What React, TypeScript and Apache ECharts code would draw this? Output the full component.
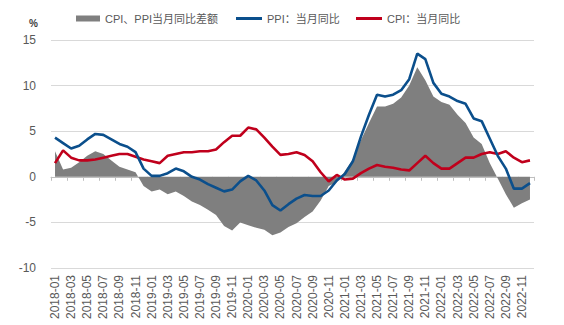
import React, { useEffect, useRef } from "react";
import * as echarts from "echarts";

const categories: string[] = [
  "2018-01","2018-02","2018-03","2018-04","2018-05","2018-06","2018-07","2018-08","2018-09","2018-10","2018-11","2018-12",
  "2019-01","2019-02","2019-03","2019-04","2019-05","2019-06","2019-07","2019-08","2019-09","2019-10","2019-11","2019-12",
  "2020-01","2020-02","2020-03","2020-04","2020-05","2020-06","2020-07","2020-08","2020-09","2020-10","2020-11","2020-12",
  "2021-01","2021-02","2021-03","2021-04","2021-05","2021-06","2021-07","2021-08","2021-09","2021-10","2021-11","2021-12",
  "2022-01","2022-02","2022-03","2022-04","2022-05","2022-06","2022-07","2022-08","2022-09","2022-10","2022-11","2022-12",
];

const ppi: number[] = [
  4.3, 3.7, 3.1, 3.4, 4.1, 4.7, 4.6, 4.1, 3.6, 3.3, 2.7, 0.9,
  0.1, 0.1, 0.4, 0.9, 0.6, 0.0, -0.3, -0.8, -1.2, -1.6, -1.4, -0.5,
  0.1, -0.4, -1.5, -3.1, -3.7, -3.0, -2.4, -2.0, -2.1, -2.1, -1.5, -0.4,
  0.3, 1.7, 4.4, 6.8, 9.0, 8.8, 9.0, 9.5, 10.7, 13.5, 12.9, 10.3,
  9.1, 8.8, 8.3, 8.0, 6.4, 6.1, 4.2, 2.3, 0.9, -1.3, -1.3, -0.7,
];

const cpi: number[] = [
  1.5, 2.9, 2.1, 1.8, 1.8, 1.9, 2.1, 2.3, 2.5, 2.5, 2.2, 1.9,
  1.7, 1.5, 2.3, 2.5, 2.7, 2.7, 2.8, 2.8, 3.0, 3.8, 4.5, 4.5,
  5.4, 5.2, 4.3, 3.3, 2.4, 2.5, 2.7, 2.4, 1.7, 0.5, -0.5, 0.2,
  -0.3, -0.2, 0.4, 0.9, 1.3, 1.1, 1.0, 0.8, 0.7, 1.5, 2.3, 1.5,
  0.9, 0.9, 1.5, 2.1, 2.1, 2.5, 2.7, 2.5, 2.8, 2.1, 1.6, 1.8,
];

const gap: number[] = [
  2.8, 0.8, 1.0, 1.6, 2.3, 2.8, 2.5, 1.8, 1.1, 0.8, 0.5, -1.0,
  -1.6, -1.4, -1.9, -1.6, -2.1, -2.7, -3.1, -3.6, -4.2, -5.4, -5.9, -5.0,
  -5.3, -5.6, -5.8, -6.4, -6.1, -5.5, -5.1, -4.4, -3.8, -2.6, -1.0, -0.6,
  0.6, 1.9, 4.0, 5.9, 7.7, 7.7, 8.0, 8.7, 10.0, 12.0, 10.6, 8.8,
  8.2, 7.9, 6.8, 5.9, 4.3, 3.6, 1.5, -0.2, -1.9, -3.4, -2.9, -2.5,
];

const NAME_GAP = "CPI、PPI当月同比差额";
const NAME_PPI = "PPI：当月同比";
const NAME_CPI = "CPI：当月同比";

const FONT = "'Liberation Sans', Arial, 'Noto Sans CJK SC', sans-serif";
const TXT = "#595959";
const BLUE = "#0b4f8c";
const RED = "#c0001c";
const GRAY = "#7f7f7f";

export default function App() {
  const ref = useRef<HTMLDivElement>(null);
  useEffect(() => {
    if (!ref.current) return;
    const chart = echarts.init(ref.current, null, { renderer: "svg" });
    const legendText = { fontSize: 11, color: TXT, fontFamily: FONT };
    chart.setOption({
      animation: false,
      textStyle: { fontFamily: FONT },
      grid: { left: 51, right: 30, top: 40, bottom: 57, containLabel: false },
      legend: [
        { data: [{ name: NAME_GAP, icon: "rect" }], left: 71, top: 8, itemWidth: 24, itemHeight: 6, textStyle: legendText, selectedMode: false },
        { data: [{ name: NAME_PPI, icon: "rect" }], left: 231, top: 8, itemWidth: 26, itemHeight: 3, textStyle: legendText, selectedMode: false },
        { data: [{ name: NAME_CPI, icon: "rect" }], left: 351, top: 8, itemWidth: 26, itemHeight: 3, textStyle: legendText, selectedMode: false },
      ],
      graphic: [
        { type: "text", left: 29, top: 18, style: { text: "%", fontSize: 10, fontWeight: "bold", fill: "#404040", fontFamily: FONT } },
      ],
      xAxis: [
        {
          type: "category",
          data: categories,
          boundaryGap: true,
          position: "bottom",
          axisLine: { show: false, onZero: false },
          axisTick: { show: false },
          axisLabel: { interval: 1, rotate: 90, fontSize: 12, color: TXT, margin: 7, fontFamily: FONT },
          splitLine: { show: false },
        },
        {
          type: "category",
          data: categories,
          boundaryGap: true,
          position: "top",
          axisLine: { show: true, onZero: true, lineStyle: { color: "#bfbfbf", width: 1 } },
          axisTick: { show: true, interval: 1, inside: true, length: 4, lineStyle: { color: "#bfbfbf" } },
          axisLabel: { show: false },
          splitLine: { show: false },
        },
      ],
      yAxis: {
        type: "value",
        min: -10,
        max: 15,
        interval: 5,
        axisLine: { show: false },
        axisTick: { show: false },
        axisLabel: { fontSize: 12, color: TXT, margin: 15, fontFamily: FONT },
        splitLine: { show: true, lineStyle: { color: "#d9d9d9", width: 1 } },
      },
      series: [
        {
          name: NAME_GAP,
          type: "line",
          data: gap,
          xAxisIndex: 0,
          showSymbol: false,
          symbol: "none",
          lineStyle: { width: 0, color: GRAY },
          itemStyle: { color: GRAY },
          areaStyle: { color: GRAY, opacity: 1, origin: 0 },
          z: 1,
        },
        {
          name: NAME_CPI,
          type: "line",
          data: cpi,
          xAxisIndex: 0,
          showSymbol: false,
          symbol: "none",
          lineStyle: { width: 2.6, color: RED },
          itemStyle: { color: RED },
          z: 3,
        },
        {
          name: NAME_PPI,
          type: "line",
          data: ppi,
          xAxisIndex: 0,
          showSymbol: false,
          symbol: "none",
          lineStyle: { width: 2.6, color: BLUE },
          itemStyle: { color: BLUE },
          z: 4,
        },
      ],
    });
    return () => chart.dispose();
  }, []);
  return <div ref={ref} style={{ width: 564, height: 325, position: "absolute", left: 0, top: 0 }} />;
}
